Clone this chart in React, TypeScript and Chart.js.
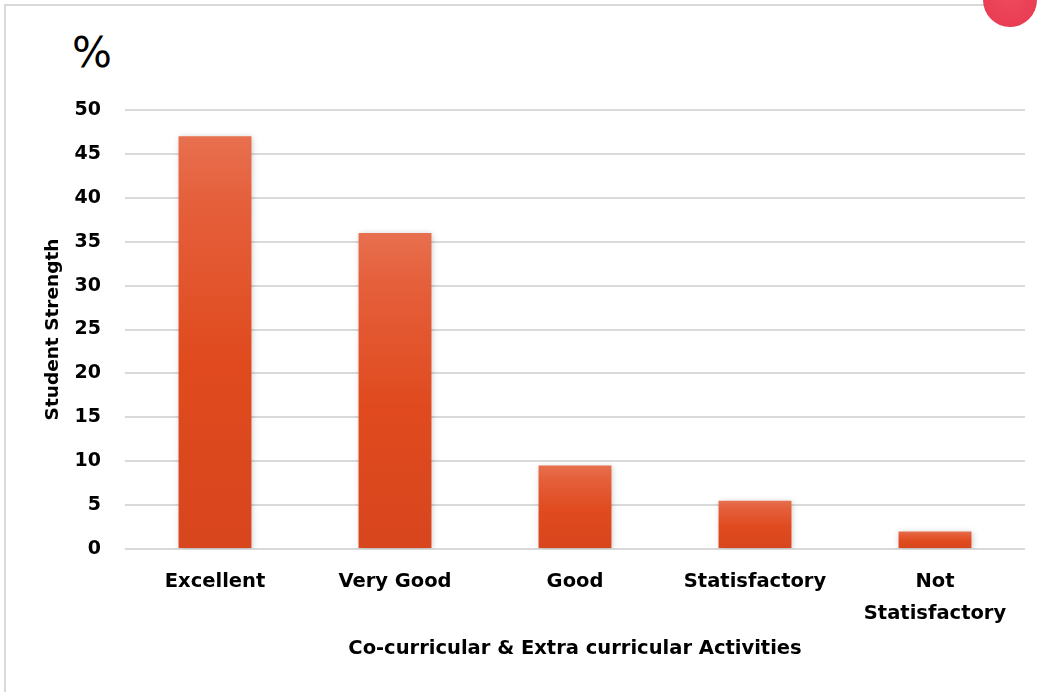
import React, { useEffect, useRef } from "react";
import { Chart, registerables } from "chart.js";

Chart.register(...registerables);

const categories: (string | string[])[] = ["Excellent", "Very Good", "Good", "Statisfactory", ["Not", "Statisfactory"]];
const values: number[] = [47, 36, 9.5, 5.5, 2];
const yTicks: number[] = [0, 5, 10, 15, 20, 25, 30, 35, 40, 45, 50];
const yTitle = "Student Strength";
const xTitle = "Co-curricular & Extra curricular Activities";

const FONT = "'DejaVu Sans', sans-serif";

const shadowPlugin = {
  id: "barShadow",
  beforeDatasetsDraw(chart: any) {
    const ctx = chart.ctx;
    ctx.save();
    ctx.shadowColor = "rgba(0,0,0,0.22)";
    ctx.shadowBlur = 6;
    ctx.shadowOffsetX = 1;
    ctx.shadowOffsetY = 1;
  },
  afterDatasetsDraw(chart: any) {
    chart.ctx.restore();
  },
};

export default function App() {
  const ref = useRef<HTMLCanvasElement | null>(null);

  useEffect(() => {
    if (!ref.current) return;
    const chart = new Chart(ref.current, {
      type: "bar",
      data: {
        labels: categories as any,
        datasets: [
          {
            data: values,
            backgroundColor: (c: any) => {
              const chart = c.chart;
              const ys = chart.scales?.y;
              if (!ys || c.raw == null) return "#E04E22";
              const top = ys.getPixelForValue(c.raw);
              const bot = ys.getPixelForValue(0);
              if (!isFinite(top) || !isFinite(bot) || top === bot) return "#E04E22";
              const g = chart.ctx.createLinearGradient(0, top, 0, bot);
              g.addColorStop(0, "#E8704F");
              g.addColorStop(0.15, "#E5603C");
              g.addColorStop(0.55, "#E04A1E");
              g.addColorStop(1, "#D8461E");
              return g;
            },
            borderWidth: 0,
            barPercentage: 0.405,
            categoryPercentage: 1,
          },
        ],
      },
      options: {
        animation: false,
        responsive: true,
        maintainAspectRatio: false,
        layout: { padding: { left: 30, top: 110, right: 19, bottom: 0 } },
        plugins: {
          legend: { display: false },
          tooltip: { enabled: false },
        },
        scales: {
          x: {
            grid: { display: false, drawTicks: false },
            border: { display: false },
            ticks: {
              color: "#000",
              font: { family: FONT, size: 19.5, weight: "bold", lineHeight: 1.65 },
              padding: 17,
              maxRotation: 0,
              autoSkip: false,
            },
            title: {
              display: true,
              text: xTitle,
              color: "#000",
              font: { family: FONT, size: 19.5, weight: "bold" },
              padding: { top: 0, bottom: 31 },
            },
            afterFit: (s: any) => {
              s.height = 143;
            },
          },
          y: {
            min: 0,
            max: 50,
            afterBuildTicks: (s: any) => {
              s.ticks = yTicks.map((v) => ({ value: v }));
            },
            grid: { color: "#D9D9D9", lineWidth: 2, drawTicks: false },
            border: { display: false },
            ticks: {
              color: "#000",
              font: { family: FONT, size: 19, weight: "bold" },
              padding: 24,
            },
            title: {
              display: true,
              text: yTitle,
              color: "#000",
              font: { family: FONT, size: 18.5, weight: "bold" },
              padding: { top: 12, bottom: 0 },
            },
            afterFit: (s: any) => {
              s.width = 95;
            },
          },
        },
      },
      plugins: [shadowPlugin],
    });
    return () => chart.destroy();
  }, []);

  return (
    <div style={{ position: "absolute", left: 0, top: 0, width: 1044, height: 692, background: "#fff", overflow: "hidden" }}>
      <div style={{ position: "absolute", left: 4, top: 4, width: 1000, height: 2, background: "#D9D9D9" }} />
      <div style={{ position: "absolute", left: 4, top: 4, width: 2, height: 688, background: "#D9D9D9" }} />
      <div
        style={{
          position: "absolute",
          left: 983,
          top: -27,
          width: 54,
          height: 54,
          borderRadius: "50%",
          background: "radial-gradient(circle at 50% 40%, #EE4A5E, #E8384F)",
        }}
      />
      <div
        style={{
          position: "absolute",
          left: 72,
          top: 28,
          fontFamily: FONT,
          fontSize: 42,
          color: "#000",
          lineHeight: "50px",
        }}
      >
        %
      </div>
      <div style={{ position: "absolute", left: 0, top: 0, width: 1044, height: 692 }}>
        <canvas ref={ref} />
      </div>
    </div>
  );
}
